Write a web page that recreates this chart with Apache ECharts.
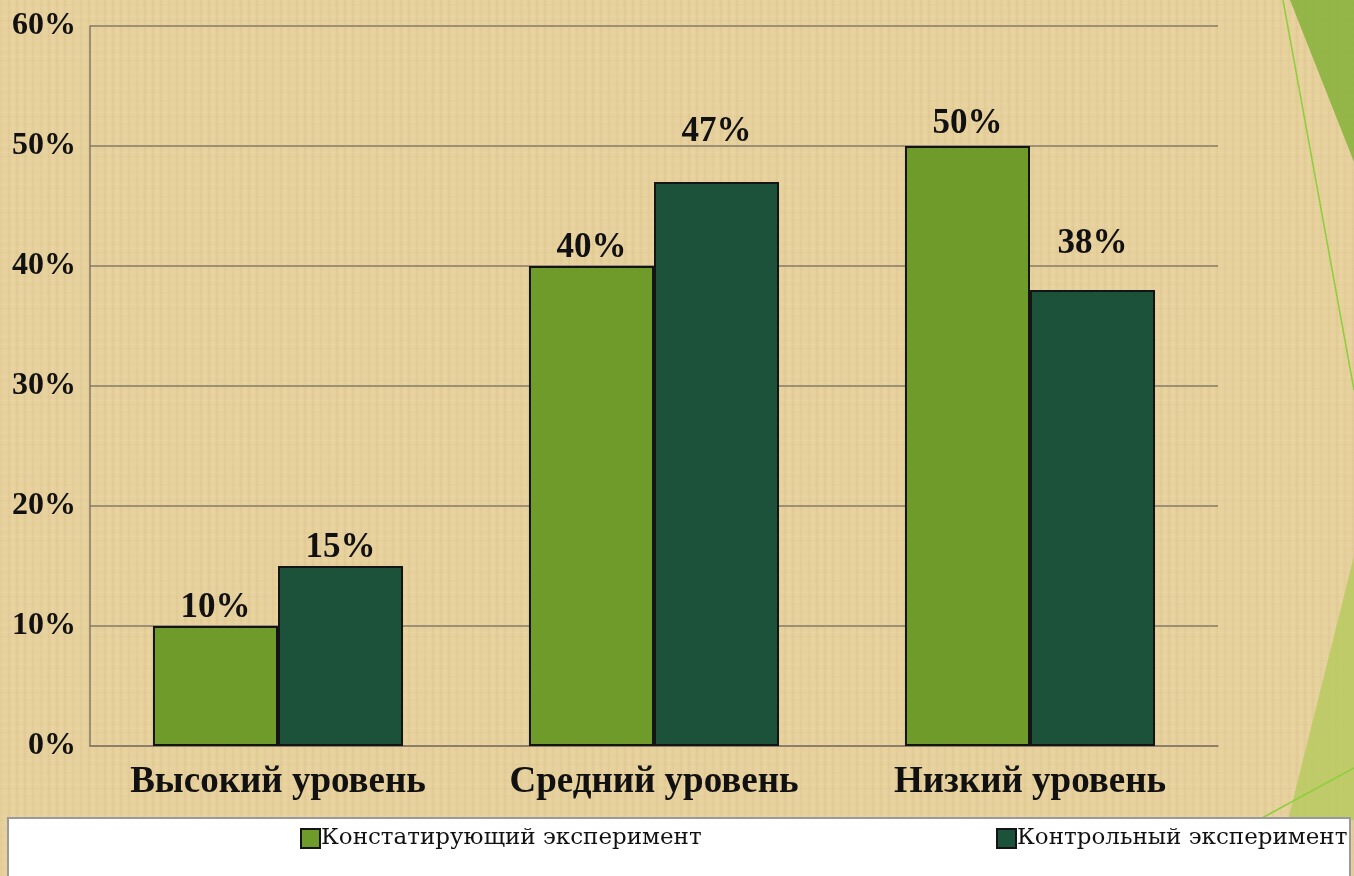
<!doctype html>
<html lang="ru">
<head>
<meta charset="utf-8">
<title>Уровни</title>
<script src="https://cdn.jsdelivr.net/npm/echarts@6/dist/echarts.min.js"></script>
<style>
  html, body { margin: 0; padding: 0; background: #e8d3a2; }
  #chart { width: 1354px; height: 876px; }
</style>
</head>
<body>
<div id="chart"></div>
<script>
// data
var categories = ['Высокий уровень', 'Средний уровень', 'Низкий уровень'];
var seriesNames = ['Констатирующий эксперимент', 'Контрольный эксперимент'];
var constatValues = [10, 40, 50];
var controlValues = [15, 47, 38];
var yTicks = [0, 10, 20, 30, 40, 50, 60];

// label offsets above the bars (the original has some labels pushed up)
var constatLabelGap = [1, 1, 5];
var controlLabelGap = [1, 33, 29];

var serif = '"Liberation Serif", "DejaVu Serif", serif';
var legendFont = '"DejaVu Serif", "Liberation Serif", serif';
var lightGreen = '#6f9b2a';
var darkGreen = '#1c513a';

// small papyrus-like texture drawn on a canvas
function makeTexture() {
    var c = document.createElement('canvas');
    c.width = 96; c.height = 96;
    var ctx = c.getContext('2d');
    ctx.fillStyle = '#e6d09c';
    ctx.fillRect(0, 0, 96, 96);
    for (var i = 0; i < 96; i += 4) {
        var a = 0.05 + 0.05 * Math.abs(Math.sin(i * 0.7));
        ctx.fillStyle = (i % 8 ? 'rgba(255,245,215,' : 'rgba(190,160,95,') + a + ')';
        ctx.fillRect(i, 0, 2, 96);
        ctx.fillStyle = (i % 8 ? 'rgba(190,160,95,' : 'rgba(255,245,215,') + (a * 0.7) + ')';
        ctx.fillRect(0, i, 96, 1);
    }
    return c;
}

function withGap(values, gaps) {
    return values.map(function (v, i) {
        return { value: v, label: { distance: gaps[i] } };
    });
}

var myChart = echarts.init(document.getElementById('chart'));

var labelStyle = {
    show: true, position: 'top', formatter: '{c}%',
    fontFamily: serif, fontWeight: 'bold', fontSize: 35, color: '#111'
};

var option = {
    backgroundColor: { image: makeTexture(), repeat: 'repeat' },
    animation: false,
    graphic: [
        // decorative green shapes on the right edge
        { type: 'polygon', shape: { points: [[1290, 0], [1354, 0], [1354, 162]] },
          style: { fill: '#8bb33f', opacity: 0.9 }, z: 0 },
        { type: 'line', shape: { x1: 1283, y1: 0, x2: 1354, y2: 390 },
          style: { stroke: '#8ccf3a', lineWidth: 1.5 }, z: 0 },
        { type: 'polygon', shape: { points: [[1354, 556], [1288, 820], [1354, 820]] },
          style: { fill: '#b5c95c', opacity: 0.8 }, z: 0 },
        { type: 'line', shape: { x1: 1354, y1: 768, x2: 1240, y2: 830 },
          style: { stroke: '#8ccf3a', lineWidth: 1.5 }, z: 0 },
        // legend box
        { type: 'rect', shape: { x: 8, y: 818, width: 1342, height: 62 },
          style: { fill: '#ffffff', stroke: '#9a9a9a', lineWidth: 2 }, z: 1 }
    ],
    grid: { left: 90, right: 136, top: 26, bottom: 130, containLabel: false },
    legend: [
        {
            data: [seriesNames[0]], left: 295, top: 822, itemWidth: 19, itemHeight: 19,
            icon: 'rect', z: 5,
            textStyle: { fontFamily: legendFont, fontSize: 23, color: '#111', padding: [0, 0, 0, -4] }
        },
        {
            data: [seriesNames[1]], left: 991, top: 822, itemWidth: 19, itemHeight: 19,
            icon: 'rect', z: 5,
            textStyle: { fontFamily: legendFont, fontSize: 23, color: '#111', padding: [0, 0, 0, -4] }
        }
    ],
    xAxis: {
        type: 'category',
        data: categories,
        axisLine: { show: true, lineStyle: { color: '#857a68', width: 1.5 } },
        axisTick: { show: false },
        axisLabel: {
            interval: 0, margin: 18,
            fontFamily: serif, fontWeight: 'bold', fontSize: 37, color: '#111'
        }
    },
    yAxis: {
        type: 'value',
        min: yTicks[0],
        max: yTicks[yTicks.length - 1],
        interval: 10,
        axisLine: { show: true, lineStyle: { color: '#857a68', width: 1.5 } },
        axisTick: { show: false },
        splitLine: { lineStyle: { color: '#857a68', width: 1.5 } },
        axisLabel: {
            margin: 14, fontFamily: serif, fontWeight: 'bold', fontSize: 32, color: '#111',
            formatter: '{value}%'
        }
    },
    series: [
        {
            name: seriesNames[0], type: 'bar', data: withGap(constatValues, constatLabelGap),
            barGap: '0%', barCategoryGap: '33.5%',
            itemStyle: { color: lightGreen, borderColor: '#141414', borderWidth: 2 },
            label: labelStyle
        },
        {
            name: seriesNames[1], type: 'bar', data: withGap(controlValues, controlLabelGap),
            itemStyle: { color: darkGreen, borderColor: '#141414', borderWidth: 2 },
            label: labelStyle
        }
    ]
};
myChart.setOption(option);
</script>
</body>
</html>
